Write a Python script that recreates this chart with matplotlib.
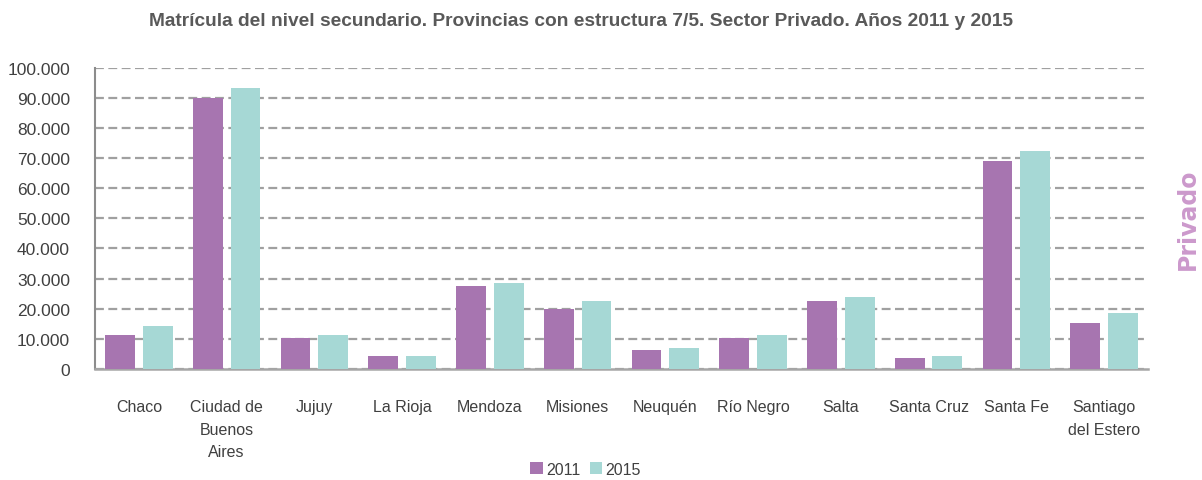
import matplotlib.pyplot as plt
import numpy as np
from matplotlib.ticker import FuncFormatter

plt.rcParams['font.family'] = ['Liberation Sans Narrow', 'Liberation Sans', 'DejaVu Sans']

provincias = ['Chaco', 'Ciudad de\nBuenos\nAires', 'Jujuy', 'La Rioja', 'Mendoza', 'Misiones',
              'Neuquén', 'Río Negro', 'Salta', 'Santa Cruz', 'Santa Fe', 'Santiago\ndel Estero']
mat_2011 = [11100, 90000, 10400, 4200, 27400, 20000, 6300, 10400, 22500, 3500, 69100, 15100]
mat_2015 = [14400, 93300, 11100, 4300, 28600, 22500, 7000, 11100, 23800, 4300, 72500, 18500]

fig = plt.figure(figsize=(12.02, 4.81), dpi=100)
ax = fig.add_axes([0.079, 0.231, 0.876, 0.626])

x = np.arange(len(provincias))
w = 0.34
ax.bar(x - 0.215, mat_2011, w, color='#A775B0', label='2011', zorder=3)
ax.bar(x + 0.215, mat_2015, w, color='#A6D8D5', label='2015', zorder=3)

ax.set_xlim(-0.5, len(provincias) - 0.5)
ax.set_ylim(0, 100000)
ax.set_yticks(range(0, 100001, 10000))
ax.yaxis.set_major_formatter(FuncFormatter(lambda v, p: '0' if v == 0 else f'{int(v):,}'.replace(',', '.')))
ax.set_xticks(x)
ax.set_xticklabels(provincias, linespacing=1.6)
ax.tick_params(axis='x', length=0, labelsize=11.5, colors='#404040', pad=22)
ax.tick_params(axis='y', length=0, labelsize=12.5, colors='#404040', pad=18)
for lbl in ax.get_xticklabels():
    lbl.set_verticalalignment('top')

ax.grid(axis='y', color='#A0A0A0', linestyle=(0, (4, 2)), linewidth=1.6, zorder=0)
for s in ['top', 'right']:
    ax.spines[s].set_visible(False)
ax.spines['left'].set_color('#8C8C8C')
ax.spines['bottom'].set_color('#A6A6A6')
ax.spines['left'].set_linewidth(1.5)
ax.spines['bottom'].set_linewidth(1.8)

fig.text(0.483, 0.955, 'Matrícula del nivel secundario. Provincias con estructura 7/5. Sector Privado. Años 2011 y 2015',
         ha='center', va='center', fontsize=13.8, fontweight='bold', color='#595959')
fig.text(0.988, 0.545, 'Privado', rotation=90, ha='center', va='center',
         family=['DejaVu Sans'], fontsize=17, fontweight='bold', color='#CC99CC')

fig.legend(loc='center', bbox_to_anchor=(0.487, 0.022), ncol=2, frameon=False,
           fontsize=11.5, handlelength=0.8, handleheight=0.8, handletextpad=0.2,
           columnspacing=0.6, labelcolor='#404040')

fig.savefig('out.png', dpi=100)
